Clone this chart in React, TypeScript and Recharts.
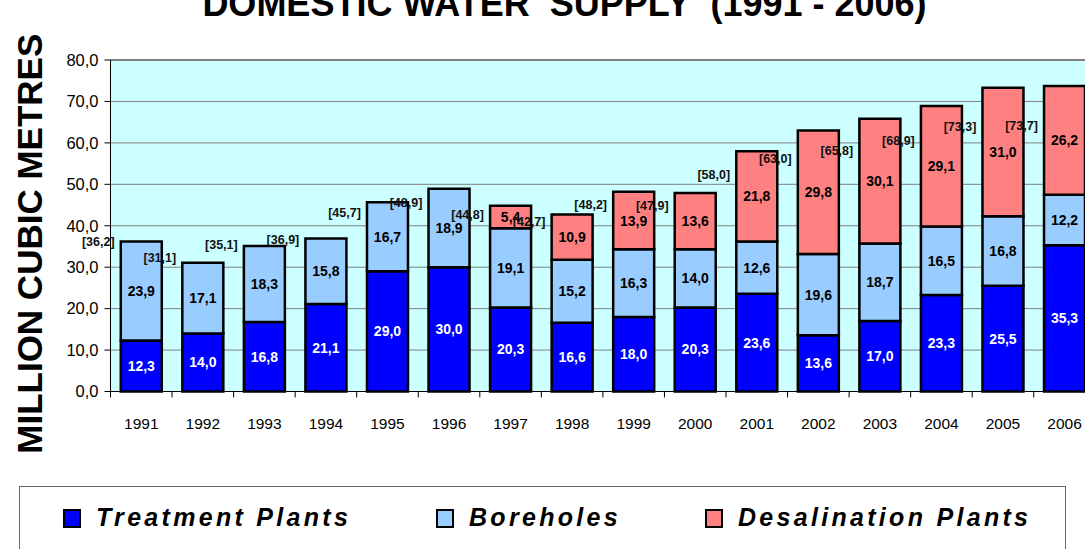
import {
  Bar,
  CartesianGrid,
  ComposedChart,
  LabelList,
  Legend,
  Line,
  ReferenceLine,
  XAxis,
  YAxis,
} from "recharts";

const years = ["1991", "1992", "1993", "1994", "1995", "1996", "1997", "1998", "1999", "2000", "2001", "2002", "2003", "2004", "2005", "2006"];
const treatment = [12.3, 14.0, 16.8, 21.1, 29.0, 30.0, 20.3, 16.6, 18.0, 20.3, 23.6, 13.6, 17.0, 23.3, 25.5, 35.3];
const boreholes = [23.9, 17.1, 18.3, 15.8, 16.7, 18.9, 19.1, 15.2, 16.3, 14.0, 12.6, 19.6, 18.7, 16.5, 16.8, 12.2];
const desalination = [null, null, null, null, null, null, 5.4, 10.9, 13.9, 13.6, 21.8, 29.8, 30.1, 29.1, 31.0, 26.2];
const totals = [36.2, 31.1, 35.1, 36.9, 45.7, 48.9, 44.8, 42.7, 48.2, 47.9, 58.0, 63.0, 65.8, 68.9, 73.3, 73.7];
const yTicks = [0, 10, 20, 30, 40, 50, 60, 70, 80];
const seriesNames = ["Treatment Plants", "Boreholes", "Desalination Plants"];

const data = years.map((year, i) => ({
  year,
  treatment: treatment[i],
  boreholes: boreholes[i],
  desalination: desalination[i],
  total: totals[i],
}));

const FONT = "'Liberation Sans', Arial, sans-serif";
const fmt = (v: number) => v.toFixed(1).replace(".", ",");

const segmentLabel = (color: string) => (props: any) => {
  const { x, y, width, height, value } = props;
  if (value == null || value === 0) return null;
  return (
    <text
      x={x + width / 2}
      y={y + height / 2 + 5}
      textAnchor="middle"
      fontFamily={FONT}
      fontSize={14}
      fontWeight="bold"
      fill={color}
    >
      {fmt(value)}
    </text>
  );
};

// totals sit up-left of each stack, like in the original sheet
const totalLabel = (props: any) => {
  const { x, y, value } = props;
  return (
    <text x={x - 43} y={y + 4.5} textAnchor="middle" fontFamily={FONT} fontSize={12.5} fontWeight="bold" fill="#111">
      [{fmt(value)}]
    </text>
  );
};

const XTick = (props: any) => {
  const { x, y, payload } = props;
  const left = x - (payload.offset || 0);
  return (
    <g>
      <line x1={left} y1={y - 6} x2={left} y2={y} stroke="#000" />
      <text x={x} y={y + 31} textAnchor="middle" fontFamily={FONT} fontSize={15.5} fill="#000">
        {payload.value}
      </text>
    </g>
  );
};

const legendLefts = [44, 417, 686];

const renderLegend = (props: any) => {
  const payload = props.payload || [];
  const items = seriesNames
    .map((name) => payload.find((p: any) => p.value === name))
    .filter(Boolean);
  return (
    <div style={{ width: 1047, height: 80, border: "1px solid #666", boxSizing: "border-box", background: "#fff" }}>
      <svg width={1045} height={78}>
        {items.map((item: any, i: number) => (
          <g key={item.value}>
            <rect x={legendLefts[i]} y={23} width={16} height={17} fill={item.color} stroke="#000" strokeWidth={2} />
            <text
              x={legendLefts[i] + 32}
              y={39}
              fontFamily={FONT}
              fontSize={25}
              fontWeight="bold"
              fontStyle="italic"
              letterSpacing={3.3}
              fill="#000"
            >
              {item.value}
            </text>
          </g>
        ))}
      </svg>
    </div>
  );
};

export default function App() {
  return (
    <div style={{ position: "fixed", left: 0, top: 0, width: 1085, height: 549, overflow: "hidden", background: "#fff" }}>
      <ComposedChart
        width={1100}
        height={549}
        data={data}
        margin={{ top: 60, right: 4.7, left: 0, bottom: 0 }}
        barCategoryGap="16.7%"
      >
        <text x={564.5} y={16} textAnchor="middle" fontFamily={FONT} fontSize={36} fontWeight="bold" fill="#000">
          DOMESTIC WATER{"\u00a0"} SUPPLY{"\u00a0"} (1991 - 2006)
        </text>
        <CartesianGrid vertical={false} fill="#CCFFFF" stroke="#808080" fillOpacity={1} />
        <XAxis
          dataKey="year"
          height={157.5}
          tickLine={false}
          tickSize={6}
          tickMargin={0}
          axisLine={{ stroke: "#000" }}
          tick={<XTick />}
          interval={0}
        />
        <YAxis
          width={110.5}
          domain={[0, 80]}
          ticks={yTicks}
          tickFormatter={fmt}
          tickSize={6}
          tickMargin={6}
          axisLine={{ stroke: "#000" }}
          tickLine={{ stroke: "#000" }}
          tick={{ fontFamily: FONT, fontSize: 16.5, fill: "#000" }}
          label={{
            content: (p: any) => {
              const vb = p.viewBox;
              const cx = vb.x + 42;
              const cy = vb.y + vb.height / 2 + 18;
              return (
                <text
                  x={cx}
                  y={cy}
                  transform={`rotate(-90 ${cx} ${cy})`}
                  textAnchor="middle"
                  fontFamily={FONT}
                  fontSize={35}
                  fontWeight="bold"
                  fill="#000"
                >
                  MILLION CUBIC METRES
                </text>
              );
            },
          }}
        />
        <YAxis yAxisId="tot" hide domain={[-12.5, 95]} />
        <ReferenceLine y={80} stroke="#808080" strokeWidth={2} />
        <Bar dataKey="treatment" name="Treatment Plants" stackId="a" fill="#0000FF" stroke="#000" strokeWidth={2.5} isAnimationActive={false}>
          <LabelList dataKey="treatment" content={segmentLabel("#fff")} />
        </Bar>
        <Bar dataKey="boreholes" name="Boreholes" stackId="a" fill="#99CCFF" stroke="#000" strokeWidth={2.5} isAnimationActive={false}>
          <LabelList dataKey="boreholes" content={segmentLabel("#000")} />
        </Bar>
        <Bar dataKey="desalination" name="Desalination Plants" stackId="a" fill="#FF8080" stroke="#000" strokeWidth={2.5} isAnimationActive={false}>
          <LabelList dataKey="desalination" content={segmentLabel("#000")} />
        </Bar>
        <Line
          yAxisId="tot"
          dataKey="total"
          stroke="none"
          dot={false}
          activeDot={false}
          legendType="none"
          isAnimationActive={false}
        >
          <LabelList dataKey="total" content={totalLabel} />
        </Line>
        <Legend
          verticalAlign="bottom"
          content={renderLegend}
          wrapperStyle={{ position: "absolute", left: 19, top: 486, width: 1047, height: 0, bottom: "auto" }}
        />
      </ComposedChart>
    </div>
  );
}
